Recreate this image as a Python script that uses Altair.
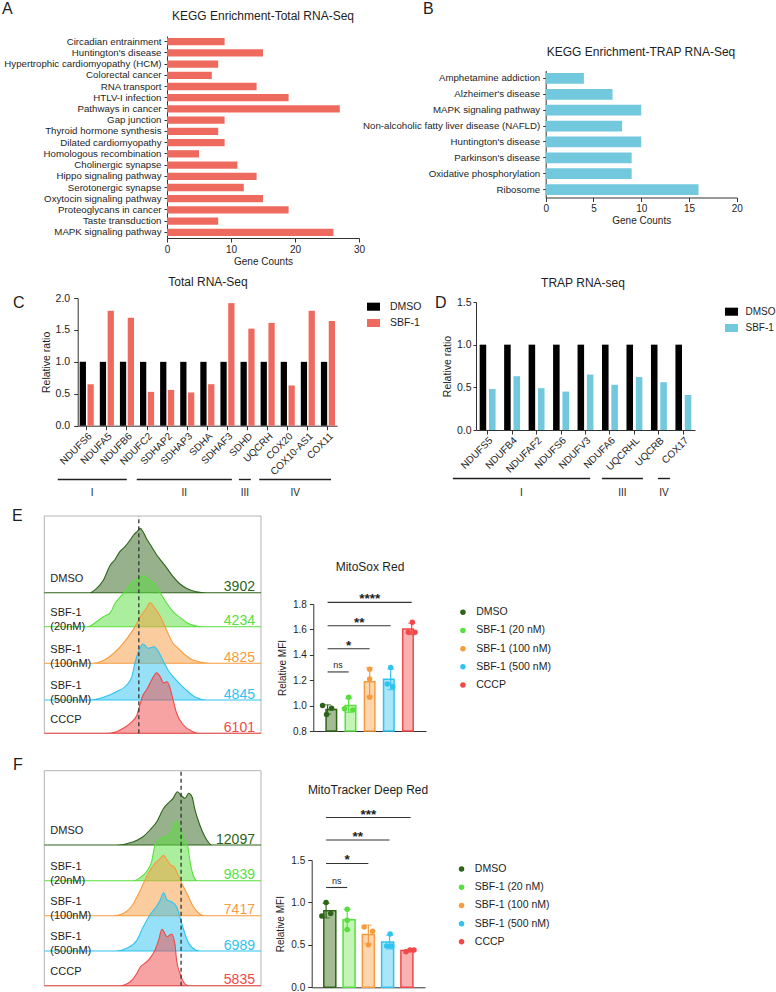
import altair as alt
import numpy as np
import pandas as pd

W, H = 776, 992
FONT = "Liberation Sans"
INK = "#1e1e1e"
AXC = "#333333"
SALMON = "#EE6A5E"
SKY = "#72C8DD"

# ---------------- panel A : KEGG total RNA-seq ----------------
a_terms = [
    "Circadian entrainment", "Huntington's disease", "Hypertrophic cardiomyopathy (HCM)",
    "Colorectal cancer", "RNA transport", "HTLV-I infection", "Pathways in cancer",
    "Gap junction", "Thyroid hormone synthesis", "Dilated cardiomyopathy",
    "Homologous recombination", "Cholinergic synapse", "Hippo signaling pathway",
    "Serotonergic synapse", "Oxytocin signaling pathway", "Proteoglycans in cancer",
    "Taste transduction", "MAPK signaling pathway",
]
a_counts = [9, 15, 8, 7, 14, 19, 27, 9, 8, 9, 5, 11, 14, 12, 15, 19, 8, 26]

# ---------------- panel B : KEGG TRAP RNA-seq ----------------
b_terms = [
    "Amphetamine addiction", "Alzheimer's disease", "MAPK signaling pathway",
    "Non-alcoholic fatty liver disease (NAFLD)", "Huntington's disease",
    "Parkinson's disease", "Oxidative phosphorylation", "Ribosome",
]
b_counts = [4, 7, 10, 8, 10, 9, 9, 16]

# ---------------- panel C : total RNA-seq ratios ----------------
c_genes = ["NDUFS6", "NDUFA5", "NDUFB6", "NDUFC2", "SDHAP2", "SDHAP3", "SDHA",
           "SDHAF3", "SDHD", "UQCRH", "COX20", "COX10-AS1", "COX11"]
c_dmso = [1.0, 1.0, 1.0, 1.0, 1.0, 1.0, 1.0, 1.0, 1.0, 1.0, 1.0, 1.0, 1.0]
c_sbf1 = [0.65, 1.80, 1.69, 0.53, 0.56, 0.52, 0.65, 1.92, 1.52, 1.61, 0.63, 1.80, 1.64]
c_grp = ["I", "II", "III", "IV"]
c_grp_start = [-1.0, 2.96, 8.08, 9.1]
c_grp_end = [2.46, 7.73, 8.68, 12.7]

# ---------------- panel D : TRAP RNA-seq ratios ----------------
d_genes = ["NDUFS5", "NDUFB4", "NDUFAF2", "NDUFS6", "NDUFV3", "NDUFA6", "UQCRHL", "UQCRB", "COX17"]
d_dmso = [1.0, 1.0, 1.0, 1.0, 1.0, 1.0, 1.0, 1.0, 1.0]
d_sbf1 = [0.48, 0.63, 0.49, 0.45, 0.65, 0.53, 0.62, 0.56, 0.41]
d_grp = ["I", "III", "IV"]
d_grp_start = [-0.95, 5.18, 7.48]
d_grp_end = [4.69, 6.86, 7.97]

# ---------------- panels E / F : flow cytometry ----------------
samples = ["DMSO", "SBF-1 (20 nM)", "SBF-1 (100 nM)", "SBF-1 (500 nM)", "CCCP"]
hist_names = ["DMSO", "SBF-1\n(20nM)", "SBF-1\n(100nM)", "SBF-1\n(500nM)", "CCCP"]
e_mfi = [3902, 4234, 4825, 4845, 6101]
f_mfi = [12097, 9839, 7417, 6989, 5835]

# histogram traces: log10 fluorescence and height (px-like units)
e_dmso_lg = [3.02, 3.10, 3.18, 3.26, 3.31, 3.37, 3.43, 3.49, 3.53, 3.57, 3.61, 3.64, 3.68, 3.74, 3.80, 3.86, 3.92, 3.99, 4.07, 4.15, 4.26, 4.38]
e_dmso_h = [0, 4.3, 12.7, 27.7, 32.7, 41, 46, 52.7, 57.7, 61, 64.3, 61, 54.3, 46, 37.7, 31, 24.3, 16, 8.7, 4.3, 1, 0]
e_s20_lg = [3.00, 3.10, 3.18, 3.26, 3.31, 3.37, 3.43, 3.49, 3.55, 3.60, 3.65, 3.70, 3.76, 3.82, 3.88, 3.93, 3.99, 4.07, 4.15, 4.26, 4.34]
e_s20_h = [0, 5, 10, 14, 22.7, 29.3, 35, 41.7, 46.7, 49.3, 51, 47.3, 44, 36.7, 28.3, 21.7, 15, 9.3, 4, 0.7, 0]
e_s100_lg = [3.06, 3.18, 3.29, 3.41, 3.51, 3.57, 3.62, 3.68, 3.72, 3.75, 3.78, 3.82, 3.88, 3.93, 3.99, 4.05, 4.13, 4.22, 4.42]
e_s100_h = [0, 2.7, 9.3, 20, 31.7, 40, 48.3, 55, 60.7, 58.3, 55, 50, 40, 30, 20, 15, 8.3, 3.3, 0]
e_s500_lg = [3.02, 3.18, 3.33, 3.45, 3.51, 3.55, 3.58, 3.64, 3.70, 3.77, 3.82, 3.88, 3.93, 3.99, 4.07, 4.15, 4.24, 4.38]
e_s500_h = [0, 2.7, 8.3, 15, 23.3, 38.3, 46.7, 56, 51.7, 53.3, 48.3, 38.3, 30, 23.3, 16, 9.3, 3.3, 0]
e_cccp_lg = [3.20, 3.33, 3.41, 3.49, 3.57, 3.60, 3.64, 3.68, 3.74, 3.80, 3.84, 3.88, 3.92, 3.95, 3.99, 4.03, 4.11, 4.22, 4.30]
e_cccp_h = [0, 1.6, 5, 10, 18.3, 27.3, 38.3, 43.3, 53.3, 60.6, 56.6, 50.3, 51.6, 46.3, 33.3, 20.3, 8.3, 1.6, 0]

f_dmso_lg = [3.33, 3.53, 3.64, 3.72, 3.80, 3.88, 3.93, 3.99, 4.04, 4.09, 4.13, 4.17, 4.21, 4.24, 4.30, 4.36, 4.44]
f_dmso_h = [0, 3.3, 8.3, 15, 23.3, 36.7, 41.7, 46.7, 53.3, 49, 46.7, 51.7, 48.3, 36.7, 20, 8.3, 0]
f_s20_lg = [3.53, 3.61, 3.68, 3.74, 3.78, 3.84, 3.92, 3.97, 4.03, 4.07, 4.11, 4.16, 4.19, 4.23, 4.27]
f_s20_h = [0, 3.3, 9, 19, 35.7, 42.3, 44.7, 49, 60, 52.3, 42.3, 34, 17.3, 4, 0]
f_s100_lg = [3.29, 3.41, 3.51, 3.61, 3.70, 3.78, 3.84, 3.88, 3.92, 3.96, 4.00, 4.05, 4.10, 4.16, 4.22, 4.30, 4.35]
f_s100_h = [0, 2.3, 9.7, 25.7, 42.3, 52.3, 57.3, 60.3, 55.7, 50.7, 49, 40.7, 30.7, 20.7, 9.7, 1.7, 0]
f_s500_lg = [3.33, 3.45, 3.57, 3.64, 3.72, 3.80, 3.84, 3.88, 3.92, 3.97, 4.03, 4.09, 4.15, 4.22, 4.30]
f_s500_h = [0, 2.7, 11, 23.7, 36, 45, 51, 58.3, 51, 49.3, 44.3, 27.7, 11.7, 2.7, 0]
f_cccp_lg = [3.37, 3.49, 3.57, 3.61, 3.66, 3.72, 3.78, 3.82, 3.86, 3.92, 3.97, 4.01, 4.03, 4.07, 4.11, 4.17]
f_cccp_h = [0, 4, 12.4, 19, 22.4, 27.4, 35.7, 45, 56.4, 49, 51.7, 42.4, 25.7, 12.4, 4, 0]

e_offsets = [140.6, 106.6, 70.0, 33.3, 0.0]
f_offsets = [140.7, 105.0, 70.0, 34.7, 0.0]

# replicate MFI (relative) and their horizontal scatter inside each bar
e_pts = [[1.00, 0.98, 0.93], [1.065, 0.975, 0.965], [1.286, 1.21, 1.065], [1.30, 1.17, 1.15], [1.656, 1.578, 1.578]]
e_jit = [[-0.24, 0.19, -0.05], [0.0, -0.2, 0.2], [0.0, 0.0, 0.0], [0.0, -0.16, 0.1], [0.03, -0.16, 0.16]]
f_pts = [[1.00, 0.84, 0.87], [0.92, 0.79, 0.68], [0.71, 0.66, 0.50], [0.627, 0.486, 0.486], [0.42, 0.44, 0.44]]
f_jit = [[0.0, -0.2, 0.22], [0.0, 0.0, 0.0], [-0.2, 0.2, 0.0], [0.03, -0.13, 0.11], [-0.22, -0.03, 0.16]]
sig_target = [1, 2, 3, 4]
e_sig_y = [1.265, 1.448, 1.629, 1.813]
e_sig_lbl = ["ns", "*", "**", "****"]
f_sig_y = [1.176, 1.459, 1.735, 2.0]
f_sig_lbl = ["ns", "*", "**", "***"]

strong = ["#2D6418", "#57E03D", "#F79B3E", "#2EC3F0", "#F24848"]
light = ["#A4BB93", "#C4F4B6", "#FDD5AE", "#AAE6F8", "#F9B2B2"]

RECT = "M-1,-0.62L1,-0.62L1,0.62L-1,0.62Z"


def ax(**kw):
    base = dict(grid=False, domainColor=AXC, tickColor=AXC, labelColor=INK, titleColor=INK,
                labelFont=FONT, titleFont=FONT, titleFontWeight="normal", labelFlush=False)
    base.update(kw)
    return alt.Axis(**base)


def kegg(terms, counts, color, x_dom, x_px, y_px, x_vals, pad_in):
    df = pd.DataFrame({"term": terms, "count": counts})
    return alt.Chart(df).mark_bar(color=color).encode(
        y=alt.Y("term:N", sort=terms,
                scale=alt.Scale(range=y_px, paddingInner=pad_in, paddingOuter=pad_in / 2),
                axis=ax(orient="left", offset=-x_px[0], title=None, labelFontSize=9.7,
                        tickSize=3, labelPadding=3, labelLimit=400, labelOverlap=False)),
        x=alt.X("count:Q", scale=alt.Scale(domain=x_dom, range=x_px, nice=False),
                axis=ax(orient="bottom", offset=y_px[1] - H, values=x_vals, format="d",
                        title="Gene Counts", labelFontSize=10, titleFontSize=10,
                        tickSize=4, labelPadding=2, titlePadding=2)),
    )


def ratio_panel(genes, dmso, sbf, col, x_px, y_dom, y_px, y_vals, pin, pout, sub_pin,
                lab_pad, tick, leg_xy, leg_font, leg_off):
    df = pd.DataFrame({"gene": genes + genes,
                       "cond": ["DMSO"] * len(genes) + ["SBF-1"] * len(genes),
                       "val": dmso + sbf})
    return alt.Chart(df).mark_bar().encode(
        x=alt.X("gene:N", sort=genes,
                scale=alt.Scale(range=x_px, paddingInner=pin, paddingOuter=pout),
                axis=ax(orient="bottom", offset=y_px[0] - H, title=None, labelAngle=-45,
                        labelAlign="right", labelBaseline="top", labelFontSize=10,
                        tickSize=4, labelPadding=1, labelOverlap=False)),
        xOffset=alt.XOffset("cond:N", sort=["DMSO", "SBF-1"], scale=alt.Scale(paddingInner=sub_pin)),
        y=alt.Y("val:Q", scale=alt.Scale(domain=y_dom, range=y_px, nice=False),
                axis=ax(orient="left", offset=-x_px[0], values=y_vals, format=".1f",
                        title="Relative ratio", labelFontSize=10.5, titleFontSize=10.5,
                        tickSize=tick, labelPadding=lab_pad, titlePadding=4)),
        color=alt.Color("cond:N", scale=alt.Scale(domain=["DMSO", "SBF-1"], range=["#000000", col]),
                        legend=alt.Legend(orient="none", legendX=leg_xy[0], legendY=leg_xy[1],
                                          title=None, symbolType=RECT, symbolSize=169,
                                          labelOffset=leg_off, rowPadding=4.3, labelFontSize=leg_font,
                                          padding=0, symbolStrokeWidth=0)),
    )


def groups(names, start, end, n, x_px, y_line, y_text):
    df = pd.DataFrame({"grp": names, "start": start, "end": end})
    sc = alt.Scale(domain=[0, n], range=x_px, nice=False, zero=False)
    lines = alt.Chart(df).mark_rule(color=INK, strokeWidth=1.4).encode(
        x=alt.X("start:Q", scale=sc, axis=None), x2="end:Q", y=alt.value(y_line))
    text = alt.Chart(df).transform_calculate(mid="(datum.start + datum.end) / 2").mark_text(
        fontSize=10, color=INK, baseline="middle").encode(
        x=alt.X("mid:Q", scale=sc, axis=None), y=alt.value(y_text), text="grp:N")
    return alt.layer(lines, text)


HX = [2.492, 5.012]
hist_ticks = [float(np.log10(m * 10.0 ** k)) for k in range(2, 6) for m in range(1, 10)
              if HX[0] <= np.log10(m * 10.0 ** k) <= HX[1]]


def hist_panel(curves, offsets, ytop, px_y, mfi):
    rows = []
    for s, (lgs, hs), off in zip(samples, curves, offsets):
        seq = [(HX[0], 0.0)] + list(zip(lgs, hs)) + [(HX[1], 0.0)]
        for lg, h in seq:
            rows.append({"sample": s, "lg": lg, "top": off + h, "base": off})
    dfh = pd.DataFrame(rows)
    xs = alt.Scale(domain=HX, range=[44.3, 261], nice=False, zero=False)
    ys = alt.Scale(domain=[0, ytop], range=px_y, nice=False, zero=False)
    major = "abs(datum.value - round(datum.value)) < 0.01"
    box = alt.Chart(pd.DataFrame({"x1": [HX[0]], "x2": [HX[1]], "y1": [0.0], "y2": [ytop]})).mark_rect(
        fillOpacity=0, stroke="#b4b4b4", strokeWidth=1).encode(
        x=alt.X("x1:Q", scale=xs,
                axis=alt.Axis(orient="bottom", offset=px_y[0] - H, values=hist_ticks, labels=False,
                              domain=False, title=None, grid=False, tickColor="#444444",
                              tickSize={"condition": {"test": major, "value": 6}, "value": 3},
                              tickWidth={"condition": {"test": major, "value": 1.6}, "value": 1})),
        x2="x2:Q",
        y=alt.Y("y1:Q", scale=ys, axis=None), y2="y2:Q")
    areas = alt.Chart(dfh).mark_area(fillOpacity=0.5, strokeWidth=1.1, interpolate="monotone").encode(
        x=alt.X("lg:Q", scale=xs, axis=None),
        y=alt.Y("top:Q", scale=ys, axis=None, stack=None),
        y2="base:Q",
        fill=alt.Fill("sample:N", scale=alt.Scale(domain=samples, range=strong), legend=None),
        stroke=alt.Stroke("sample:N", scale=alt.Scale(domain=samples, range=strong), legend=None))
    dash = alt.Chart(pd.DataFrame({"lg": [float(np.log10(mfi[0]))], "y1": [0.0], "y2": [ytop]})).mark_rule(
        strokeDash=[4, 3], color="#333333", strokeWidth=1.3).encode(
        x=alt.X("lg:Q", scale=xs, axis=None), y=alt.Y("y1:Q", scale=ys, axis=None), y2="y2:Q")
    dfl = pd.DataFrame({"sample": samples, "name": hist_names, "mfi": [str(v) for v in mfi],
                        "ly": [o + 13.7 for o in offsets], "ny": [o + 1.5 for o in offsets],
                        "lx": [HX[0] + 0.07] * 5, "nx": [HX[1] - 0.07] * 5})
    names = alt.Chart(dfl).mark_text(align="left", baseline="middle", fontSize=11, lineBreak="\n",
                                     lineHeight=14, color=INK).encode(
        x=alt.X("lx:Q", scale=xs, axis=None), y=alt.Y("ly:Q", scale=ys, axis=None), text="name:N")
    nums = alt.Chart(dfl).mark_text(align="right", baseline="alphabetic", fontSize=14).encode(
        x=alt.X("nx:Q", scale=xs, axis=None), y=alt.Y("ny:Q", scale=ys, axis=None), text="mfi:N",
        color=alt.Color("sample:N", scale=alt.Scale(domain=samples, range=strong), legend=None))
    return alt.layer(box, areas, dash, names, nums)


def bar_panel(pts, jit, y_dom, y_px, x_px, y_vals, y_base, sig_y, sig_lbl, bar_w, leg_xy):
    """Returns a flat list of layers; every layer carries the same explicit scales."""
    rows = []
    for i, (s, vs, js) in enumerate(zip(samples, pts, jit)):
        for v, j in zip(vs, js):
            rows.append({"sample": s, "idx": i, "jx": i + j, "val": v})
    df = pd.DataFrame(rows)
    stats = df.groupby(["sample", "idx"], sort=False)["val"].agg(["mean", "std"]).reset_index()
    stats["lo"] = stats["mean"] - stats["std"]
    stats["hi"] = stats["mean"] + stats["std"]
    stats["base"] = y_base

    def xs():
        return alt.Scale(domain=[-0.68, 4.68], range=x_px, nice=False, zero=False)

    def ys():
        return alt.Scale(domain=y_dom, range=y_px, nice=False, zero=False)

    def sc(rng):
        return alt.Scale(domain=samples, range=rng)

    sb = alt.Chart(stats)
    bars = sb.mark_bar(width=bar_w, strokeWidth=1.5).encode(
        x=alt.X("idx:Q", scale=xs(), axis=None),
        y=alt.Y("mean:Q", scale=ys(), axis=None),
        y2="base:Q",
        fill=alt.Fill("sample:N", scale=sc(light), legend=None),
        stroke=alt.Stroke("sample:N", scale=sc(strong), legend=None))
    err = sb.mark_rule(strokeWidth=1.2).encode(
        x=alt.X("idx:Q", scale=xs(), axis=None), y=alt.Y("lo:Q", scale=ys(), axis=None), y2="hi:Q",
        stroke=alt.Stroke("sample:N", scale=sc(strong), legend=None))
    cap_hi = sb.mark_tick(thickness=1.2, size=7, orient="horizontal").encode(
        x=alt.X("idx:Q", scale=xs(), axis=None), y=alt.Y("hi:Q", scale=ys(), axis=None),
        color=alt.Color("sample:N", scale=sc(strong), legend=None))
    cap_lo = sb.mark_tick(thickness=1.2, size=7, orient="horizontal").encode(
        x=alt.X("idx:Q", scale=xs(), axis=None), y=alt.Y("lo:Q", scale=ys(), axis=None),
        color=alt.Color("sample:N", scale=sc(strong), legend=None))
    dots = alt.Chart(df).mark_circle(size=30, opacity=1).encode(
        x=alt.X("jx:Q", scale=xs(),
                axis=ax(orient="bottom", offset=y_px[0] - H, ticks=False, labels=False, title=None)),
        y=alt.Y("val:Q", scale=ys(),
                axis=ax(orient="left", offset=-x_px[0], values=y_vals, format=".1f",
                        title="Relative MFI", labelFontSize=10, titleFontSize=10, tickSize=4,
                        labelPadding=3, titlePadding=5)),
        color=alt.Color("sample:N", scale=sc(strong),
                        legend=alt.Legend(orient="none", legendX=leg_xy[0], legendY=leg_xy[1],
                                          title=None, symbolType="circle", symbolSize=30,
                                          labelFontSize=10.5, rowPadding=7.2,
                                          labelOffset=8, padding=0)))
    sig = pd.DataFrame({"a": [0, 0, 0, 0], "b": sig_target, "y": sig_y, "lbl": sig_lbl})
    sig_rules = alt.Chart(sig).mark_rule(color="#333333", strokeWidth=1.1).encode(
        x=alt.X("a:Q", scale=xs(), axis=None), x2="b:Q", y=alt.Y("y:Q", scale=ys(), axis=None))
    sig_ns = alt.Chart(sig).transform_filter("datum.lbl == 'ns'").transform_calculate(
        m="(datum.a + datum.b) / 2").mark_text(fontSize=9, baseline="alphabetic", dy=-3.5,
                                                color=INK).encode(
        x=alt.X("m:Q", scale=xs(), axis=None), y=alt.Y("y:Q", scale=ys(), axis=None), text="lbl:N")
    sig_st = alt.Chart(sig).transform_filter("datum.lbl != 'ns'").transform_calculate(
        m="(datum.a + datum.b) / 2").mark_text(fontSize=13.5, fontWeight="bold", baseline="alphabetic",
                                                dy=1, color=INK).encode(
        x=alt.X("m:Q", scale=xs(), axis=None), y=alt.Y("y:Q", scale=ys(), axis=None), text="lbl:N")
    return [bars, err, cap_hi, cap_lo, dots, sig_rules, sig_ns, sig_st]


panelA = kegg(a_terms, a_counts, SALMON, [0, 30], [167, 359], [36, 238], [0, 10, 20, 30], 0.35)
panelB = kegg(b_terms, b_counts, SKY, [0, 20], [545.7, 736.7], [70.5, 197.5], [0, 5, 10, 15, 20], 0.33)
panelC = ratio_panel(c_genes, c_dmso, c_sbf1, SALMON, [77.7, 337], [0, 2], [425.7, 298],
                     [0, 0.5, 1.0, 1.5, 2.0], 0.3, 0.1, 0.2, 4, 4, (367, 300.2), 10.5, 10)
panelD = ratio_panel(d_genes, d_dmso, d_sbf1, SKY, [476, 695], [0, 1.5], [430, 302],
                     [0, 0.5, 1.0, 1.5], 0.35, 0.15, 0.3, 2, 3, (725, 305.2), 10, 7.5)
groupsC = groups(c_grp, c_grp_start, c_grp_end, 13, [77.7, 337], 479.5, 492.5)
groupsD = groups(d_grp, d_grp_start, d_grp_end, 9, [476, 695], 478.5, 492.5)

histE = hist_panel([(e_dmso_lg, e_dmso_h), (e_s20_lg, e_s20_h), (e_s100_lg, e_s100_h),
                    (e_s500_lg, e_s500_h), (e_cccp_lg, e_cccp_h)], e_offsets, 217.3, [733.3, 516], e_mfi)
histF = hist_panel([(f_dmso_lg, f_dmso_h), (f_s20_lg, f_s20_h), (f_s100_lg, f_s100_h),
                    (f_s500_lg, f_s500_h), (f_cccp_lg, f_cccp_h)], f_offsets, 215.0, [985.7, 770.7], f_mfi)
barE = bar_panel(e_pts, e_jit, [0.8, 1.8], [731, 604], [313.3, 426], [0.8, 1.0, 1.2, 1.4, 1.6, 1.8],
                 0.8, e_sig_y, e_sig_lbl, 10.5, (457.7, 607))
barF = bar_panel(f_pts, f_jit, [0, 1.5], [987.3, 860], [311.7, 425], [0.0, 0.5, 1.0, 1.5],
                 0.0, f_sig_y, f_sig_lbl, 12, (456.3, 863.8))

letters_df = pd.DataFrame({"t": ["A", "B", "C", "D", "E", "F"],
                           "px": [2, 423, 13, 435, 12, 13],
                           "py": [13.5, 13.5, 308, 307.5, 521, 769.5]})
titles_df = pd.DataFrame({"t": ["KEGG Enrichment-Total RNA-Seq", "KEGG Enrichment-TRAP RNA-Seq",
                                "Total RNA-Seq", "TRAP RNA-seq", "MitoSox Red", "MitoTracker Deep Red"],
                          "px": [263, 641, 208, 583, 370, 368],
                          "py": [19.5, 55.5, 285.5, 287, 570.5, 794]})
letters = alt.Chart(letters_df).mark_text(fontSize=16, align="left", baseline="alphabetic", color=INK).encode(
    x=alt.X("px:Q", scale=None, axis=None), y=alt.Y("py:Q", scale=None, axis=None), text="t:N")
titles = alt.Chart(titles_df).mark_text(fontSize=12, align="center", baseline="alphabetic", color=INK).encode(
    x=alt.X("px:Q", scale=None, axis=None), y=alt.Y("py:Q", scale=None, axis=None), text="t:N")

layers = [panelA, panelB, panelC, groupsC, panelD, groupsD, histE] + barE + [histF] + barF + [letters, titles]

chart = alt.layer(*layers).resolve_scale(
    x="independent", y="independent", xOffset="independent",
    color="independent", fill="independent", stroke="independent"
).properties(
    width=W, height=H, padding=0, autosize=alt.AutoSizeParams(type="none")
).configure(font=FONT).configure_view(strokeWidth=0).configure_axis(
    grid=False, domainWidth=1, tickWidth=1
).configure_legend(labelFont=FONT, labelColor=INK, padding=0)

chart.save("out.html", embed_options={"renderer": "svg", "actions": False})
